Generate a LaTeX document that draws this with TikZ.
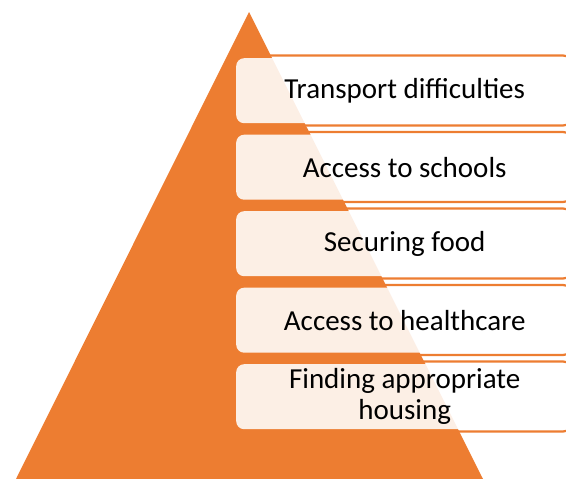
\documentclass[tikz,border=0pt]{standalone}
\usepackage{fontspec}
\setmainfont{Carlito}
\definecolor{acc}{HTML}{ED7D31}
\tikzset{
  outline/.style={draw=acc, line width=2.2pt, rounded corners=9pt},
  panel/.style={fill=white, fill opacity=0.88, rounded corners=8pt, minimum width=333pt, minimum height=65pt, anchor=north west, inner sep=0pt},
  label/.style={text=black, align=center, font=\fontsize{29}{31}\selectfont, inner sep=0pt}
}
\begin{document}
\begin{tikzpicture}[x=1pt,y=-1pt]
\useasboundingbox (0,0) rectangle (566,479);
\clip (0,0) rectangle (566,479);
\fill[acc] (249,12) -- (483,479) -- (16,479) -- cycle;
\foreach \t/\n in {58/1,134.5/2,211/3,287.5/4,364/5}{
  \draw[outline] (231,\t-2.5) rectangle (572,\t+67.5);
  \node[panel] (b\n) at (236,\t) {};
}
\node[label] (t1) at ([xshift=2pt]b1.center) {Transport difficulties};
\node[label] (t2) at ([xshift=2pt]b2.center) {Access to schools};
\node[label] (t3) at ([xshift=2pt]b3.center) {Securing food};
\node[label] (t4) at ([xshift=2pt]b4.center) {Access to healthcare};
\node[label] (t5) at ([xshift=2pt]b5.center) {Finding appropriate\\housing};
\end{tikzpicture}
\end{document}
